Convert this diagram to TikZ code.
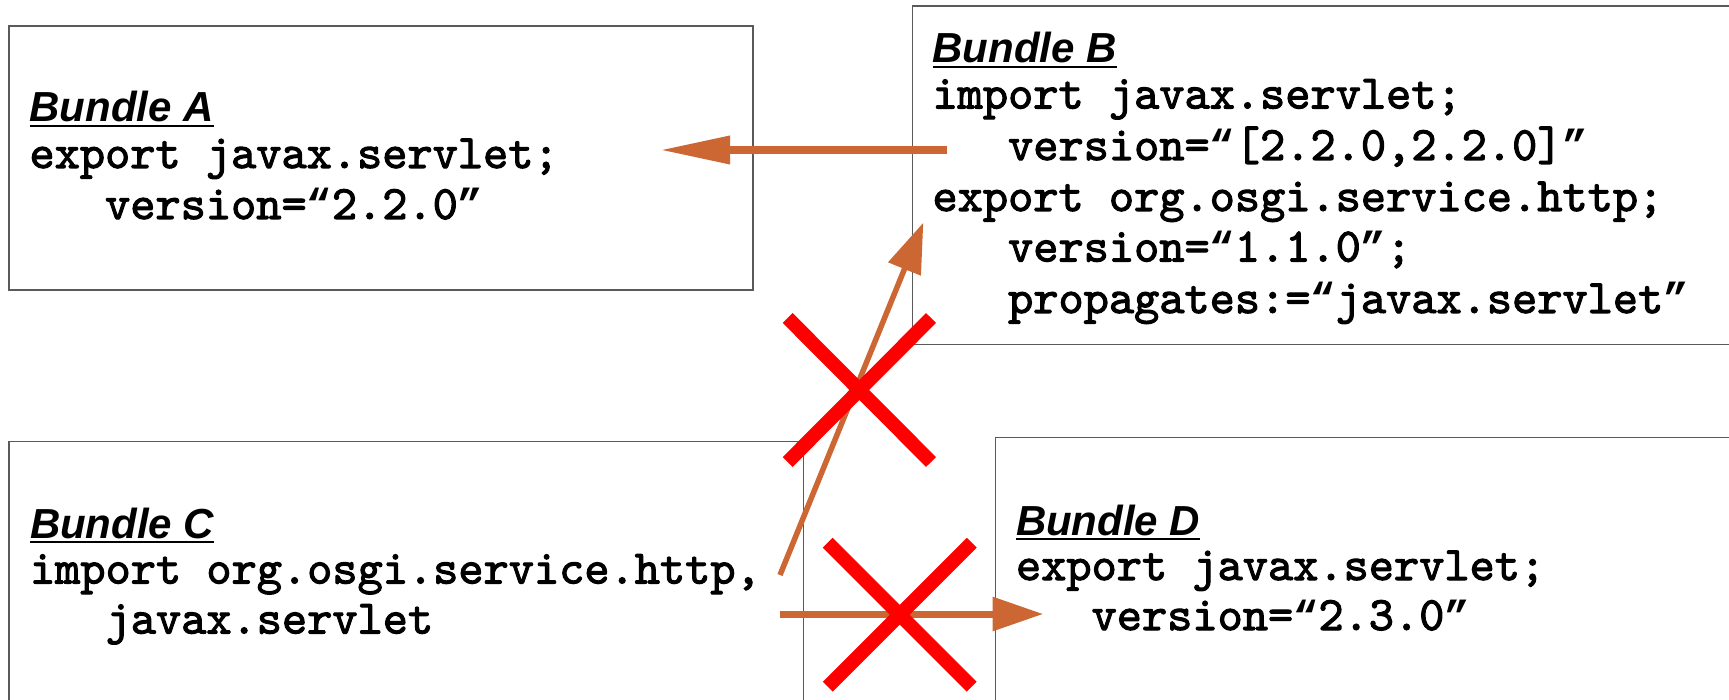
\documentclass[tikz,border=0pt]{standalone}
\usepackage{fontspec}
\setmainfont{Liberation Sans}
\newfontfamily\codefont{lmmono10-regular.otf}[FakeBold=2.2]
\newfontfamily\quotefont{Liberation Mono}
\newcommand\oq{{\quotefont\bfseries\fontsize{21pt}{25pt}\selectfont “}}
\newcommand\cq{{\quotefont\bfseries\fontsize{21pt}{25pt}\selectfont ”}}
\usetikzlibrary{arrows.meta}
\definecolor{arrowc}{RGB}{204,102,51}
\definecolor{boxc}{RGB}{90,90,90}
\definecolor{xred}{RGB}{255,0,0}
\begin{document}
\begin{tikzpicture}[x=0.5pt,y=-0.5pt,
  bundle/.style={draw=boxc,line width=0.7pt,anchor=north west,inner sep=0pt,outer sep=0pt,fill=white},
  title/.style={anchor=base west,inner sep=0pt,outer sep=0pt,font=\fontsize{21pt}{25pt}\selectfont\bfseries\itshape},
  code/.style={anchor=base west,inner sep=0pt,outer sep=0pt,font=\codefont\fontsize{24pt}{28pt}\selectfont},
  uline/.style={line width=0.9pt},
  dep/.style={draw=arrowc},
  cross/.style={draw=xred,line width=7pt,line cap=butt}
]
\fill[white] (0,0) rectangle (1729,700);
\clip (0,0) rectangle (1729,700);

% boxes
\node[bundle,minimum width=372pt,minimum height=132pt] (A) at (9,26) {};
\node[bundle,minimum width=413.65pt,minimum height=169.15pt] (B) at (912.7,6) {};
\node[bundle,minimum width=397.15pt,minimum height=139.25pt] (C) at (9,441.5) {};
\node[bundle,minimum width=372.15pt,minimum height=141.15pt] (D) at (995.7,437.7) {};

% Bundle A
\node[title] (tA) at (29.5,122) {Bundle A};
\draw[uline] ([yshift=-2.1pt]tA.base west) -- ([yshift=-2.1pt]tA.base east);
\node[code] (a1) at (29.5,168) {export javax.servlet;};
\node[code] (a2) at (29.5,219) {\ \ \ version=\oq2.2.0\cq};

% Bundle B
\node[title] (tB) at (932.5,63) {Bundle B};
\draw[uline] ([yshift=-2.1pt]tB.base west) -- ([yshift=-2.1pt]tB.base east);
\node[code] (b1) at (932.5,108.5) {import javax.servlet;};
\node[code] (b2) at (932.5,160) {\ \ \ version=\oq[2.2.0,2.2.0]\cq};
\node[code] (b3) at (932.5,211) {export org.osgi.service.http;};
\node[code] (b4) at (932.5,261.5) {\ \ \ version=\oq1.1.0\cq;};
\node[code] (b5) at (932.5,313) {\ \ \ propagates:=\oq javax.servlet\cq};

% Bundle C
\node[title] (tC) at (30,538) {Bundle C};
\draw[uline] ([yshift=-2.1pt]tC.base west) -- ([yshift=-2.1pt]tC.base east);
\node[code] (c1) at (30,583.5) {import org.osgi.service.http,};
\node[code] (c2) at (30,633.5) {\ \ \ javax.servlet};

% Bundle D
\node[title] (tD) at (1016,535) {Bundle D};
\draw[uline] ([yshift=-2.1pt]tD.base west) -- ([yshift=-2.1pt]tD.base east);
\node[code] (d1) at (1016,580) {export javax.servlet;};
\node[code] (d2) at (1016,630) {\ \ \ version=\oq2.3.0\cq};

% connector end points
\coordinate (bImp) at (947,150);
\coordinate (aExp) at (660,150);
\coordinate (cImp1) at (780,575);
\coordinate (bExp) at (923.3,222.7);
\coordinate (cImp2) at (780,614);
\coordinate (dExp) at (1043.3,614);

\draw[dep,line width=4pt,-{Triangle[length=35pt,width=13.3pt]}] (bImp) -- (aExp);
\draw[dep,line width=2.75pt,-{Triangle[length=25pt,width=17pt]}] (cImp1) -- (bExp);
\draw[dep,line width=3.5pt,-{Triangle[length=25.3pt,width=16.3pt]}] (cImp2) -- (dExp);

% crosses
\coordinate (x1a) at (787.7,318);
\coordinate (x1b) at (931,462);
\coordinate (x1c) at (931,318);
\coordinate (x1d) at (787.7,462);
\draw[cross] (x1a) -- (x1b);
\draw[cross] (x1c) -- (x1d);
\coordinate (x2a) at (827.7,542.7);
\coordinate (x2b) at (971.7,686.7);
\coordinate (x2c) at (971.7,542.7);
\coordinate (x2d) at (827.7,686.7);
\draw[cross] (x2a) -- (x2b);
\draw[cross] (x2c) -- (x2d);
\end{tikzpicture}
\end{document}
